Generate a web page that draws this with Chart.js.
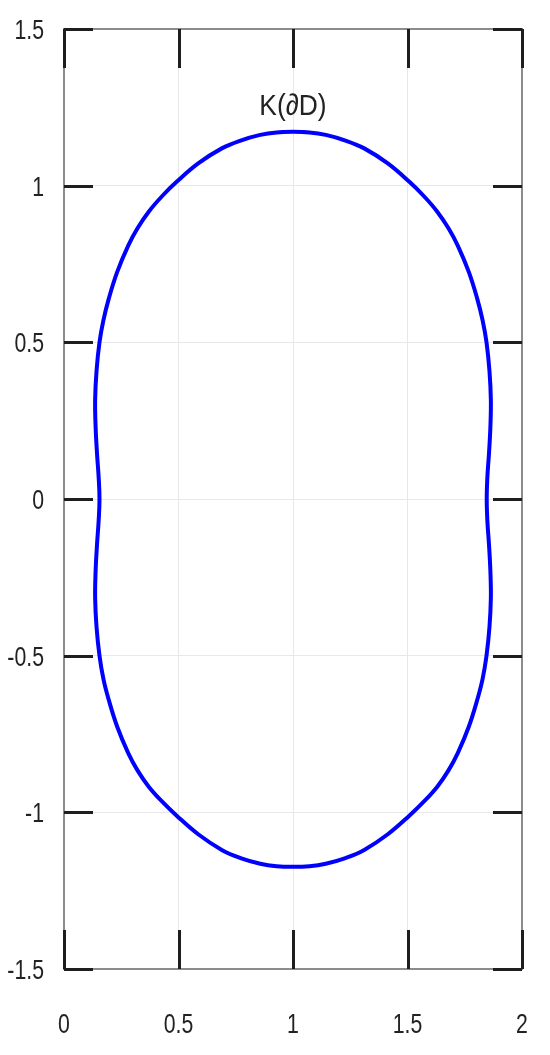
<!DOCTYPE html>
<html>
<head>
<meta charset="utf-8">
<script src="https://cdn.jsdelivr.net/npm/chart.js@4/dist/chart.umd.min.js"></script>
<style>
    html, body { margin: 0; padding: 0; background: #fff; }
    #wrap { width: 550px; height: 1055px; }
</style>
</head>
<body>
<div id="wrap"><canvas id="curveChart" width="550" height="1055"></canvas></div>
<script>
// boundary points, going round the loop from the top (anticlockwise)
const curveX = [
    1.000, 0.928, 0.857, 0.771, 0.689, 0.586, 0.493, 0.429, 0.370, 0.321, 0.280, 0.232, 0.195, 0.172, 0.155, 0.142, 0.136, 0.138, 0.144, 0.151, 0.155,
    0.151, 0.144, 0.138, 0.136, 0.142, 0.155, 0.172, 0.195, 0.232, 0.280, 0.321, 0.370, 0.429, 0.491, 0.586, 0.689, 0.771, 0.857, 0.928, 1.000,
    1.072, 1.143, 1.229, 1.311, 1.414, 1.509, 1.571, 1.630, 1.679, 1.720, 1.768, 1.805, 1.828, 1.845, 1.858, 1.864, 1.862, 1.856, 1.849, 1.846,
    1.849, 1.856, 1.862, 1.864, 1.858, 1.845, 1.828, 1.805, 1.768, 1.720, 1.679, 1.630, 1.571, 1.507, 1.414, 1.311, 1.229, 1.143, 1.072
];
const curveY = [
    1.172, 1.170, 1.162, 1.144, 1.119, 1.071, 1.013, 0.967, 0.917, 0.864, 0.808, 0.724, 0.638, 0.570, 0.500, 0.408, 0.316, 0.231, 0.147, 0.073, 0.000,
    -0.073, -0.147, -0.231, -0.316, -0.408, -0.500, -0.574, -0.640, -0.726, -0.810, -0.866, -0.918, -0.966, -1.010, -1.070, -1.120, -1.146, -1.164, -1.172, -1.174,
    -1.172, -1.164, -1.146, -1.120, -1.070, -1.010, -0.966, -0.918, -0.866, -0.810, -0.726, -0.640, -0.574, -0.500, -0.408, -0.316, -0.231, -0.147, -0.073, 0.000,
    0.073, 0.147, 0.231, 0.316, 0.408, 0.500, 0.570, 0.638, 0.724, 0.808, 0.864, 0.917, 0.967, 1.013, 1.071, 1.119, 1.144, 1.162, 1.170
];
const xTicks = [0, 0.5, 1, 1.5, 2];
const yTicks = [-1.5, -1, -0.5, 0, 0.5, 1, 1.5];
const curveLabel = 'K(∂D)';
const labelAt = [1, 1.2256];

const FONT_FAMILY = '"Liberation Sans", Arial, sans-serif';
const TEXT_COLOR = '#222';

// text in the reference is narrow and tall, so squeeze it horizontally
function drawSqueezed(ctx, text, x, y, align, size, squeeze) {
    ctx.save();
    ctx.translate(x, y);
    ctx.scale(squeeze, 1);
    ctx.font = `${size}px ${FONT_FAMILY}`;
    ctx.textAlign = align;
    ctx.textBaseline = 'alphabetic';
    ctx.fillStyle = TEXT_COLOR;
    ctx.fillText(text, 0, 0);
    ctx.restore();
}

const framePlugin = {
    id: 'frame',
    afterDatasetsDraw(chart) {
        const { ctx, chartArea: a, scales } = chart;
        ctx.save();
        ctx.strokeStyle = '#8c8c8c';
        ctx.lineWidth = 2;
        ctx.strokeRect(a.left, a.top, a.right - a.left, a.bottom - a.top);

        // inward tick marks on all four sides
        ctx.strokeStyle = '#1e1e1e';
        ctx.lineWidth = 3;
        ctx.beginPath();
        scales.x.ticks.forEach((t) => {
            const px = Math.round(scales.x.getPixelForValue(t.value)) + 0.5;
            ctx.moveTo(px, a.top);
            ctx.lineTo(px, a.top + 39);
            ctx.moveTo(px, a.bottom);
            ctx.lineTo(px, a.bottom - 39);
        });
        scales.y.ticks.forEach((t) => {
            const py = Math.round(scales.y.getPixelForValue(t.value)) + 0.5;
            ctx.moveTo(a.left, py);
            ctx.lineTo(a.left + 29, py);
            ctx.moveTo(a.right, py);
            ctx.lineTo(a.right - 29, py);
        });
        ctx.stroke();
        ctx.restore();

        scales.x.ticks.forEach((t) => {
            drawSqueezed(ctx, String(t.value), scales.x.getPixelForValue(t.value), a.bottom + 64, 'center', 28, 0.76);
        });
        scales.y.ticks.forEach((t) => {
            drawSqueezed(ctx, String(t.value), a.left - 20, scales.y.getPixelForValue(t.value) + 10, 'right', 28, 0.76);
        });

        drawSqueezed(ctx, curveLabel, scales.x.getPixelForValue(labelAt[0]), scales.y.getPixelForValue(labelAt[1]), 'center', 30, 0.88);
    }
};

function initCurveChart() {
    const canvas = document.getElementById('curveChart');
    if (!canvas || typeof Chart === 'undefined') {
        return;
    }

    // wrap one point past each end so the spline closes smoothly at the top
    const n = curveX.length;
    const order = [n - 1, ...curveX.keys(), 0, 1];
    const points = order.map((i) => ({ x: curveX[i], y: curveY[i] }));

    new Chart(canvas, {
        type: 'scatter',
        data: {
            datasets: [{
                data: points,
                showLine: true,
                borderColor: '#0000ff',
                borderWidth: 4,
                pointRadius: 0,
                tension: 0.4,
                fill: false
            }]
        },
        options: {
            responsive: false,
            animation: false,
            layout: { padding: { top: 29, right: 28, left: 0, bottom: 0 } },
            plugins: {
                legend: { display: false },
                tooltip: { enabled: false }
            },
            scales: {
                x: {
                    type: 'linear',
                    min: 0,
                    max: 2,
                    afterBuildTicks(scale) {
                        scale.ticks = xTicks.map((value) => ({ value }));
                    },
                    afterFit(scale) {
                        scale.height = 86;
                    },
                    grid: { color: '#e8e8e8', lineWidth: 1, drawTicks: false },
                    border: { display: false },
                    ticks: { display: false }
                },
                y: {
                    type: 'linear',
                    min: -1.5,
                    max: 1.5,
                    afterBuildTicks(scale) {
                        scale.ticks = yTicks.map((value) => ({ value }));
                    },
                    afterFit(scale) {
                        scale.width = 64;
                    },
                    grid: { color: '#e8e8e8', lineWidth: 1, drawTicks: false },
                    border: { display: false },
                    ticks: { display: false }
                }
            }
        },
        plugins: [framePlugin]
    });
}

document.addEventListener('DOMContentLoaded', initCurveChart);
</script>
</body>
</html>
